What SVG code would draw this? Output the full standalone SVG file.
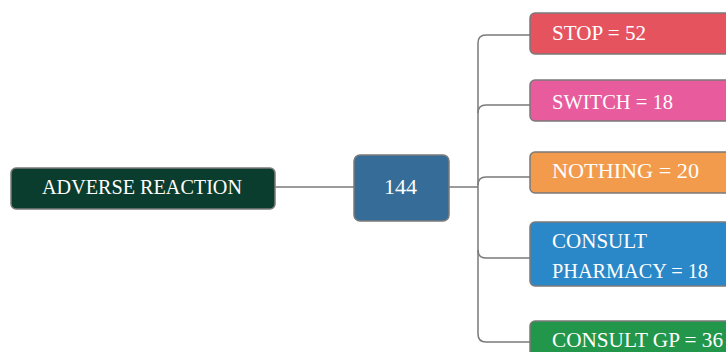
<svg xmlns="http://www.w3.org/2000/svg" width="726" height="352" viewBox="0 0 726 352">
<style>
.box{stroke:#7a7a7a;stroke-width:1.5}
.t{font-family:"Liberation Serif","DejaVu Serif",serif;font-size:22px;fill:#ffffff}
.c{fill:none;stroke:#7a7a7a;stroke-width:1.5}
</style>
<rect width="726" height="352" fill="#ffffff"/>
<g id="connectors">
<path class="c" d="M275,187 H354"/>
<path class="c" d="M449,187 H478"/>
<path class="c" d="M530,35 H486 Q478,35 478,43 V334 Q478,342 486,342 H530"/>
<path class="c" d="M530,105 H486 Q478,105 478,113"/>
<path class="c" d="M530,177 H486 Q478,177 478,185"/>
<path class="c" d="M478,250 Q478,258 486,258 H530"/>
</g>
<g id="adverse">
<rect class="box" x="11" y="168" width="264" height="41" rx="5" fill="#0b3d2e"/>
<text class="t" x="42" y="194" textLength="200" lengthAdjust="spacingAndGlyphs">ADVERSE REACTION</text>
</g>
<g id="n144">
<rect class="box" x="354" y="155" width="95" height="66" rx="6" fill="#366d98"/>
<text class="t" x="384" y="194" textLength="33" lengthAdjust="spacingAndGlyphs">144</text>
</g>
<g id="stop">
<rect class="box" x="530" y="13" width="230" height="41" rx="5" fill="#e5535f"/>
<text class="t" x="552" y="40" textLength="94" lengthAdjust="spacingAndGlyphs">STOP = 52</text>
</g>
<g id="switch">
<rect class="box" x="530" y="80" width="230" height="41" rx="5" fill="#e85b9d"/>
<text class="t" x="552" y="109" textLength="121" lengthAdjust="spacingAndGlyphs">SWITCH = 18</text>
</g>
<g id="nothing">
<rect class="box" x="530" y="152" width="230" height="41" rx="5" fill="#f39b4c"/>
<text class="t" x="552" y="178" textLength="147" lengthAdjust="spacingAndGlyphs">NOTHING = 20</text>
</g>
<g id="pharmacy">
<rect class="box" x="530" y="222" width="230" height="64" rx="5" fill="#2b88c8"/>
<text class="t" x="552" y="248" textLength="95" lengthAdjust="spacingAndGlyphs">CONSULT</text>
<text class="t" x="552" y="278" textLength="156" lengthAdjust="spacingAndGlyphs">PHARMACY = 18</text>
</g>
<g id="gp">
<rect class="box" x="530" y="321" width="230" height="50" rx="5" fill="#22964a"/>
<text class="t" x="552" y="347" textLength="171" lengthAdjust="spacingAndGlyphs">CONSULT GP = 36</text>
</g>
</svg>
